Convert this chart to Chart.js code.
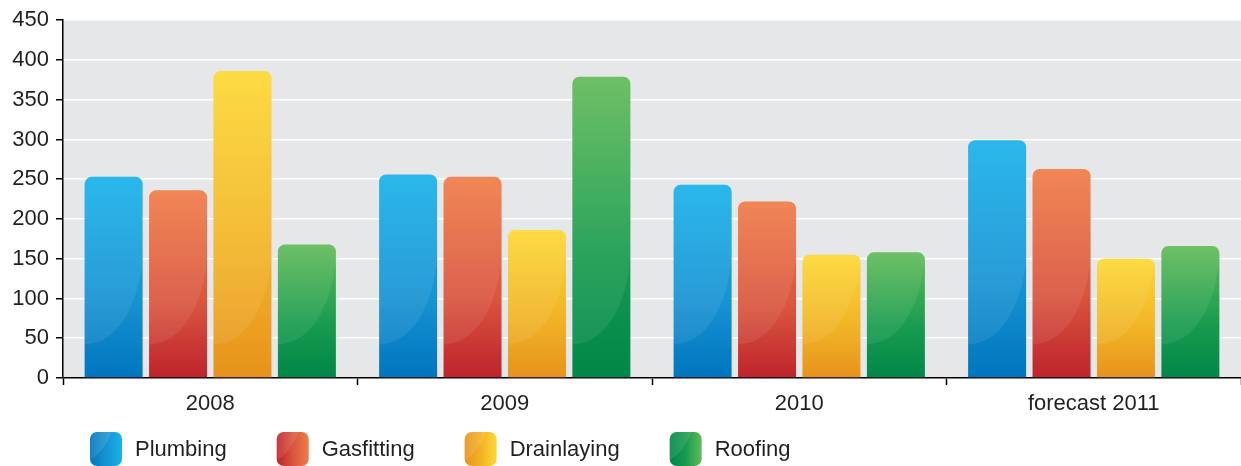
<!DOCTYPE html>
<html>
<head>
<meta charset="utf-8">
<script src="https://cdn.jsdelivr.net/npm/chart.js@4"></script>
<style>
  html, body { margin: 0; padding: 0; background: #fff; }
  #wrap { width: 1241px; height: 466px; }
</style>
</head>
<body>
<div id="wrap"><canvas id="chart" width="1241" height="466"></canvas></div>
<script>
const years = ['2008', '2009', '2010', 'forecast 2011'];
const plumbing = [253, 256, 243, 299];
const gasfitting = [236, 253, 222, 263];
const drainlaying = [386, 186, 155, 150];
const roofing = [168, 379, 158, 166];

// top / middle / bottom shades for each series
const shades = {
    Plumbing: ['#18b2ea', '#1793d2', '#0075be'],
    Gasfitting: ['#f07c48', '#d9553e', '#be232c'],
    Drainlaying: ['#fdd833', '#f1b326', '#e7921c'],
    Roofing: ['#62bb58', '#189b4f', '#008648']
};

const textColor = '#231f20';
const font = { family: '"Liberation Sans", Arial, sans-serif', size: 22 };

const barFill = (name) => (ctx) => {
    const chart = ctx.chart;
    if (!chart.chartArea || ctx.raw === undefined) return shades[name][1];
    const y = chart.scales.y;
    const top = y.getPixelForValue(ctx.raw);
    const bottom = y.getPixelForValue(0);
    const g = chart.ctx.createLinearGradient(0, top, 0, bottom);
    g.addColorStop(0, shades[name][0]);
    g.addColorStop(0.6, shades[name][1]);
    g.addColorStop(1, shades[name][2]);
    return g;
};

const makeSet = (label, data) => ({
    label: label,
    data: data,
    backgroundColor: barFill(label),
    borderWidth: 0,
    borderRadius: { topLeft: 7, topRight: 7, bottomLeft: 0, bottomRight: 0 },
    borderSkipped: false,
    categoryPercentage: 0.875,
    barPercentage: 0.9
});

// grey plot background
const plotBg = {
    id: 'plotBg',
    beforeDraw(chart) {
        const a = chart.chartArea;
        const c = chart.ctx;
        c.save();
        c.fillStyle = '#e6e7e8';
        c.fillRect(a.left, a.top, a.right - a.left, a.bottom - a.top);
        c.restore();
    }
};

const roundTop = (c, x, y, w, h, r) => {
    c.beginPath();
    c.moveTo(x, y + h);
    c.lineTo(x, y + r);
    c.quadraticCurveTo(x, y, x + r, y);
    c.lineTo(x + w - r, y);
    c.quadraticCurveTo(x + w, y, x + w, y + r);
    c.lineTo(x + w, y + h);
    c.closePath();
};

// glossy sweep on the lower left of every bar
const gloss = {
    id: 'gloss',
    afterDatasetsDraw(chart) {
        const c = chart.ctx;
        chart.data.datasets.forEach((ds, i) => {
            chart.getDatasetMeta(i).data.forEach(bar => {
                const left = bar.x - bar.width / 2;
                const right = bar.x + bar.width / 2;
                const w = bar.width;
                const b = bar.base;
                c.save();
                roundTop(c, left, bar.y, w, b - bar.y, 7);
                c.clip();
                c.beginPath();
                c.moveTo(left, bar.y - 2);
                c.lineTo(left, b - 33);
                c.bezierCurveTo(left + 0.55 * w, b - 33, right - 0.08 * w, b - 70, right, b - 118);
                c.lineTo(right, bar.y - 2);
                c.closePath();
                c.fillStyle = 'rgba(255,255,255,0.08)';
                c.fill();
                c.restore();
            });
        });
    }
};

// legend drawn below the axis
const bottomLegend = {
    id: 'bottomLegend',
    afterDraw(chart) {
        const c = chart.ctx;
        c.save();
        c.font = font.size + 'px ' + font.family;
        c.textBaseline = 'middle';
        let x = 90;
        const y = 432, w = 32, h = 34;
        chart.data.datasets.forEach(ds => {
            const s = shades[ds.label];
            const g = c.createLinearGradient(x, 0, x + w, 0);
            g.addColorStop(0, s[2]);
            g.addColorStop(0.5, s[1]);
            g.addColorStop(1, s[0]);
            c.save();
            c.beginPath();
            c.roundRect(x, y, w, h, 7);
            c.fillStyle = g;
            c.fill();
            c.clip();
            c.beginPath();
            c.moveTo(x, y);
            c.lineTo(x + 22, y);
            c.bezierCurveTo(x + 16, y + 14, x + 8, y + 24, x, y + 28);
            c.closePath();
            c.fillStyle = 'rgba(255,255,255,0.1)';
            c.fill();
            c.restore();
            c.fillStyle = textColor;
            c.fillText(ds.label, x + w + 13, y + h / 2 + 1);
            x += w + 13 + c.measureText(ds.label).width + 50;
        });
        c.restore();
    }
};

new Chart(document.getElementById('chart'), {
    type: 'bar',
    data: {
        labels: years,
        datasets: [
            makeSet('Plumbing', plumbing),
            makeSet('Gasfitting', gasfitting),
            makeSet('Drainlaying', drainlaying),
            makeSet('Roofing', roofing)
        ]
    },
    options: {
        responsive: false,
        animation: false,
        layout: { padding: { top: 17, right: 0, bottom: 50, left: 0 } },
        plugins: {
            legend: { display: false },
            tooltip: { enabled: false }
        },
        scales: {
            x: {
                grid: {
                    offset: true,
                    drawOnChartArea: false,
                    tickColor: '#000',
                    tickLength: 7,
                    tickWidth: 1.5
                },
                border: { color: '#000', width: 1.5 },
                ticks: { color: textColor, font: font, padding: 6 },
                afterFit: (s) => { s.height = 38; }
            },
            y: {
                min: 0,
                max: 450,
                ticks: { stepSize: 50, color: textColor, font: font, padding: 7 },
                grid: {
                    color: '#ffffff',
                    lineWidth: 1.5,
                    tickColor: '#000',
                    tickLength: 7,
                    tickWidth: 1.5
                },
                border: { color: '#000', width: 1.5 },
                afterFit: (s) => { s.width = 63; }
            }
        }
    },
    plugins: [plotBg, gloss, bottomLegend]
});
</script>
</body>
</html>
